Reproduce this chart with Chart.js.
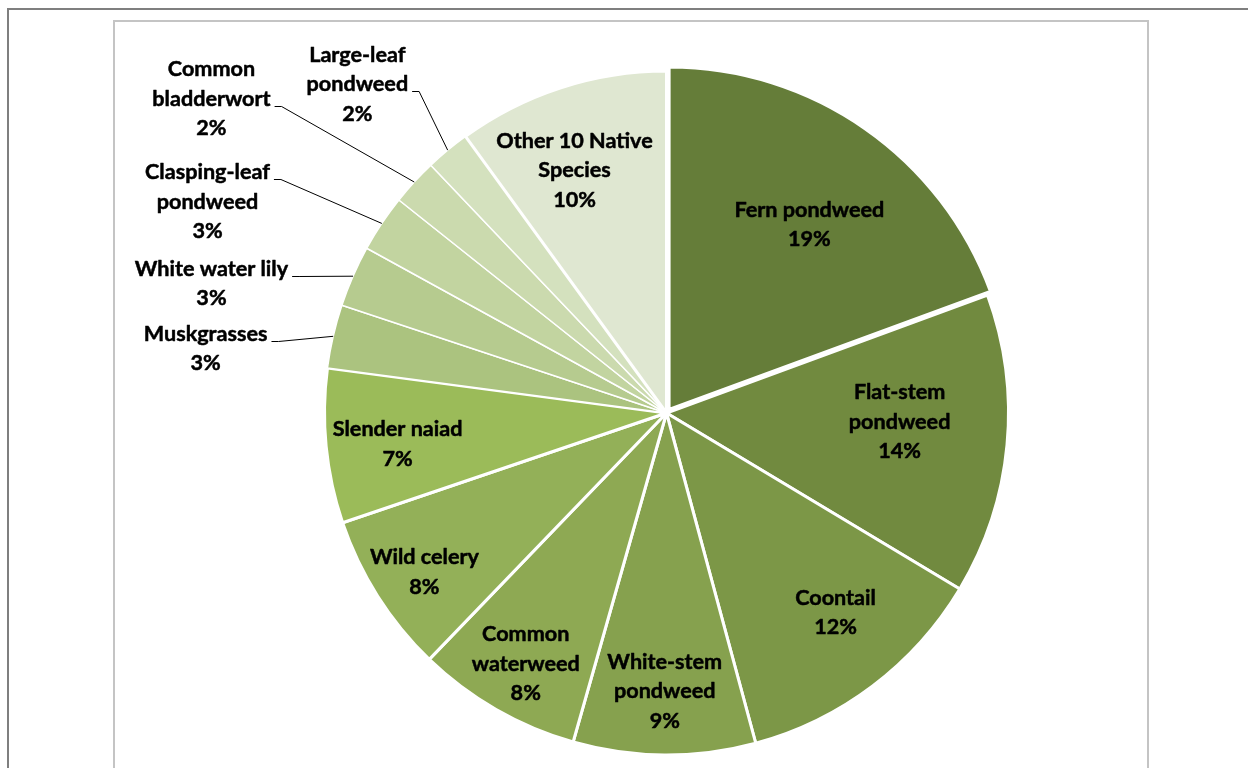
<!DOCTYPE html>
<html>
<head>
<meta charset="utf-8">
<script src="https://cdn.jsdelivr.net/npm/chart.js@4.4.1/dist/chart.umd.min.js"></script>
<style>
  html, body { margin: 0; padding: 0; background: #fff; overflow: hidden; }
  #wrap { position: relative; width: 1248px; height: 768px; overflow: hidden; }
  #outer { position: absolute; left: 7px; top: 8px; width: 1300px; height: 800px;
           border-top: 2px solid #7f7f7f; border-left: 2px solid #7f7f7f; }
  #inner { position: absolute; left: 113px; top: 20px; width: 1032px; height: 800px;
           border: 2px solid #c4c4c4; }
  canvas { position: absolute; left: 0; top: 0; }
</style>
</head>
<body>
<div id="wrap">
  <div id="outer"></div>
  <div id="inner"></div>
  <canvas id="chart" width="1248" height="768"></canvas>
</div>
<script>
// Aquatic plant species, share of total (%)
const species = [
  ["Fern pondweed"],
  ["Flat-stem", "pondweed"],
  ["Coontail"],
  ["White-stem", "pondweed"],
  ["Common", "waterweed"],
  ["Wild celery"],
  ["Slender naiad"],
  ["Muskgrasses"],
  ["White water lily"],
  ["Clasping-leaf", "pondweed"],
  ["Common", "bladderwort"],
  ["Large-leaf", "pondweed"],
  ["Other 10 Native", "Species"]
];
const coverage = [19.4, 14.2, 12.2, 8.6, 7.8, 7.6, 7.3, 3.0, 2.9, 2.7, 2.2, 2.1, 10.0];

// Slice styling
const sliceColors = [
  "#657d39", "#718a3f", "#7c9747", "#86a14e", "#8ea953", "#93b058", "#9bbb59",
  "#abc37f", "#b6cb8f", "#c2d4a0", "#cbdaae", "#d4e1be", "#dfe7d1"
];
const sliceBorders = [3, 3, 3, 3, 3, 3, 3, 1.5, 1.5, 1.5, 1.5, 1.5, 3];
const sliceOffsets = [18, 0, 0, 0, 0, 0, 0, 0, 0, 0, 0, 0, 0];

// Label placement: angular shift from slice middle (deg) and distance in radii
const labelPlacement = [
  { dAng: 2.2, r: 0.680 },
  { dAng: -3.4, r: 0.682 },
  { dAng: -3.3, r: 0.763 },
  { dAng: 0.0, r: 0.811 },
  { dAng: -0.5, r: 0.839 },
  { dAng: -0.8, r: 0.846 },
  { dAng: -0.8, r: 0.791 },
  { dAng: -4.9, r: 1.361, leader: true },
  { dAng: -7.6, r: 1.384, leader: true },
  { dAng: -8.9, r: 1.478, leader: true },
  { dAng: -7.8, r: 1.618, leader: true },
  { dAng: -3.4, r: 1.321, leader: true },
  { dAng: -2.7, r: 0.761 }
];

const FONT = "bold 21.6px Lato";
const LINE_H = 29.5;
const CAP_HALF = 7.7;

const sliceLabels = {
  id: "sliceLabels",
  afterDatasetsDraw(chart) {
    const ctx = chart.ctx;
    const ds = chart.data.datasets[0];
    const total = ds.data.reduce((a, b) => a + b, 0);
    const meta = chart.getDatasetMeta(0);
    ctx.save();
    ctx.font = FONT;
    ctx.fillStyle = "#000";
    ctx.strokeStyle = "#000";
    ctx.textAlign = "center";
    ctx.textBaseline = "alphabetic";
    ctx.lineJoin = "round";
    meta.data.forEach((arc, i) => {
      const p = arc.getProps(["x", "y", "startAngle", "endAngle", "outerRadius"], true);
      const mid = (p.startAngle + p.endAngle) / 2;
      const shift = (ds.offset[i] || 0) / 4;
      const cx = p.x + Math.cos(mid) * shift;
      const cy = p.y + Math.sin(mid) * shift;
      const place = labelPlacement[i];
      const a = mid + place.dAng * Math.PI / 180;
      const lx = cx + Math.cos(a) * p.outerRadius * place.r;
      const ly = cy + Math.sin(a) * p.outerRadius * place.r;
      const lines = [...chart.data.labels[i], Math.round(ds.data[i] / total * 100) + "%"];
      const n = lines.length;
      ctx.lineWidth = 0.5;
      lines.forEach((t, k) => {
        const ty = ly + (k - (n - 1) / 2) * LINE_H + CAP_HALF;
        ctx.fillText(t, lx, ty);
        ctx.strokeText(t, lx, ty);
      });
      if (place.leader) {
        let wi = 0, ww = 0;
        lines.forEach((t, k) => {
          const w = ctx.measureText(t).width;
          if (w > ww) { ww = w; wi = k; }
        });
        const by = Math.round(ly + (wi - (n - 1) / 2) * LINE_H + CAP_HALF) + 0.5;
        const sx = lx + ww / 2 + 4;
        const ex = cx + Math.cos(mid) * p.outerRadius;
        const ey = cy + Math.sin(mid) * p.outerRadius;
        ctx.lineWidth = 1;
        ctx.beginPath();
        ctx.moveTo(sx, by);
        ctx.lineTo(sx + 7, by);
        ctx.lineTo(ex, ey);
        ctx.stroke();
      }
    });
    ctx.restore();
  }
};

new Chart(document.getElementById("chart"), {
  type: "pie",
  data: {
    labels: species,
    datasets: [{
      data: coverage,
      backgroundColor: sliceColors,
      borderColor: "#ffffff",
      borderWidth: sliceBorders,
      offset: sliceOffsets
    }]
  },
  options: {
    responsive: false,
    animation: false,
    radius: 342,
    layout: { padding: { left: 99, right: 14, top: 62, bottom: 4 } },
    plugins: {
      legend: { display: false },
      tooltip: { enabled: false },
      title: { display: false }
    }
  },
  plugins: [sliceLabels]
});
</script>
</body>
</html>
